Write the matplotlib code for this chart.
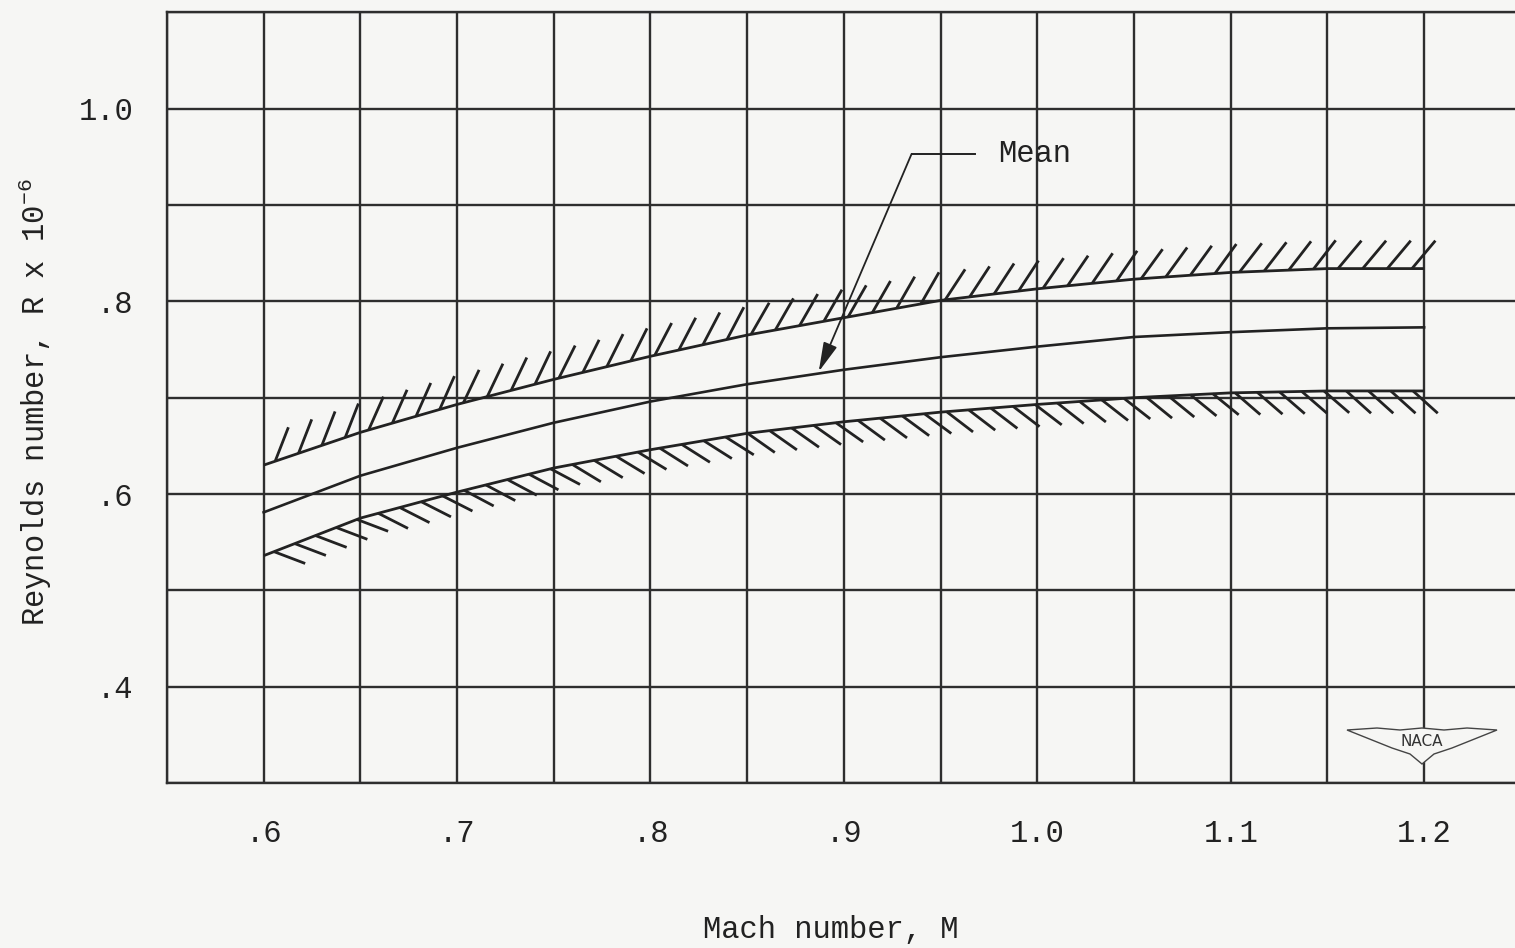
import matplotlib

matplotlib.use("Agg")

import matplotlib.pyplot as plt
from matplotlib import patheffects
from matplotlib.patches import Polygon

BACKGROUND = "#F6F6F4"
INK = "#222222"
GRID = "#2E2E2E"

# values
mach = [0.60, 0.65, 0.70, 0.75, 0.80, 0.85, 0.90, 0.95, 1.00, 1.05, 1.10, 1.15, 1.20]
upper = [0.630, 0.664, 0.693, 0.719, 0.743, 0.765, 0.783, 0.801, 0.813, 0.823, 0.830, 0.834, 0.834]
mean = [0.581, 0.619, 0.648, 0.674, 0.696, 0.714, 0.729, 0.742, 0.753, 0.763, 0.768, 0.772, 0.773]
lower = [0.536, 0.575, 0.602, 0.627, 0.646, 0.663, 0.675, 0.685, 0.693, 0.700, 0.705, 0.707, 0.707]

x_ticks = [0.6, 0.7, 0.8, 0.9, 1.0, 1.1, 1.2]
x_labels = [".6", ".7", ".8", ".9", "1.0", "1.1", "1.2"]
y_ticks = [0.4, 0.6, 0.8, 1.0]
y_labels = [".4", ".6", ".8", "1.0"]
x_grid = [0.55, 0.65, 0.75, 0.85, 0.95, 1.05, 1.15]
y_grid = [0.3, 0.5, 0.7, 0.9, 1.1]

plt.rcParams.update(
    {
        "font.family": ["Liberation Mono", "DejaVu Sans Mono"],
        "font.size": 22,
        "mathtext.fontset": "custom",
        "mathtext.rm": "Liberation Mono",
        "mathtext.it": "Liberation Mono",
        "mathtext.bf": "Liberation Mono",
        "axes.unicode_minus": False,
    }
)

fig = plt.figure(figsize=(15.15, 9.48), dpi=100, facecolor=BACKGROUND)
ax = fig.add_axes([0.1102, 0.174, 0.8898, 0.813])
ax.set_facecolor(BACKGROUND)
ax.set_xlim(0.55, 1.247)
ax.set_ylim(0.3, 1.1)

# grid paper: every 0.05 in M, every 0.1 in R
ax.set_xticks(x_ticks)
ax.set_xticklabels(x_labels)
ax.set_yticks(y_ticks)
ax.set_yticklabels(y_labels)
ax.set_xticks(x_grid, minor=True)
ax.set_yticks(y_grid, minor=True)
ax.grid(True, which="both", color=GRID, linewidth=1.7)
ax.set_axisbelow(True)
ax.tick_params(which="both", length=0)
ax.tick_params(axis="x", pad=26, colors=INK)
ax.tick_params(axis="y", pad=24, colors=INK)
for side in ("left", "top", "bottom"):
    ax.spines[side].set_color(GRID)
    ax.spines[side].set_linewidth(1.7)
ax.spines["right"].set_visible(False)

# band limits with hatching and mean curve
ax.plot(
    mach, upper, color=INK, lw=2.0, solid_capstyle="butt",
    path_effects=[patheffects.withTickedStroke(spacing=17.5, angle=50, length=1.5)],
)
ax.plot(
    mach, lower, color=INK, lw=2.0, solid_capstyle="butt",
    path_effects=[patheffects.withTickedStroke(spacing=16, angle=-42, length=1.5)],
)
ax.plot(mach, mean, color=INK, lw=1.9)

# "Mean" leader
ax.text(0.98, 0.953, "Mean", ha="left", va="center", color=INK)
ax.plot([0.968, 0.935], [0.953, 0.953], color=INK, lw=1.4)
ax.annotate(
    "", xy=(0.887, 0.727), xytext=(0.935, 0.953),
    arrowprops=dict(arrowstyle="-|>,head_length=0.9,head_width=0.22", color=INK, lw=1.3, mutation_scale=20,
                    shrinkA=0, shrinkB=0),
)

ax.set_xlabel("Mach number, M", color=INK)
ax.xaxis.set_label_coords(0.4926, -0.171)
ax.set_ylabel(r"Reynolds number, R x 10$^{\mathregular{-6}}$", color=INK)
ax.yaxis.set_label_coords(-0.084, 0.494)

# NACA wing badge (figure pixels)
cx, cy = 1422, 948 - 742
wing = [(-75, 12), (-45, 14), (-22, 12), (0, 14), (22, 12), (45, 14), (75, 12),
        (50, 2), (30, -6), (12, -12), (0, -22), (-12, -12), (-30, -6), (-50, 2)]
fig.patches.append(
    Polygon([(cx + dx, cy + dy) for dx, dy in wing], closed=True, transform=None,
            facecolor=BACKGROUND, edgecolor="#444444", lw=1.0, zorder=5)
)
fig.text(cx / 1515, cy / 948, "NACA", ha="center", va="center", fontsize=11,
         family="DejaVu Sans", color="#333333", zorder=6)

fig.savefig("out.png", dpi=100, facecolor=fig.get_facecolor())
